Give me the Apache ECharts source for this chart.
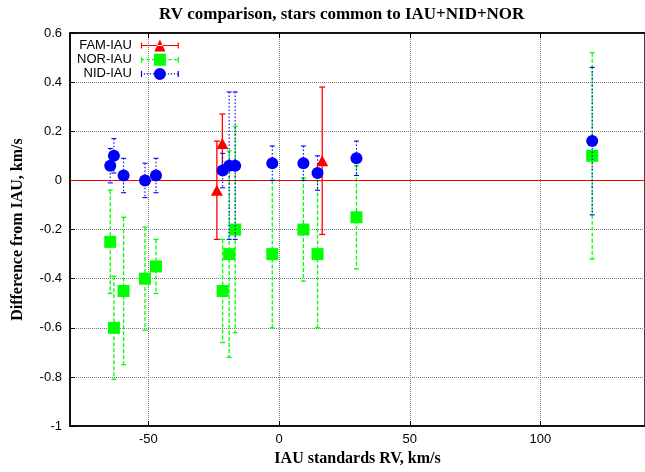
<!DOCTYPE html>
<html>
<head>
<meta charset="utf-8">
<script src="https://cdn.jsdelivr.net/npm/echarts@6/dist/echarts.min.js"></script>
<style>
html,body{margin:0;padding:0;background:#fff;}
#chart{width:645px;height:472px;}
</style>
</head>
<body>
<div id="chart"></div>
<script>
// ---- data ----
const famX = [-23.8, -21.7, 16.5];
const famY = [-0.04, 0.15, 0.08];
const famErr = [0.20, 0.12, 0.30];

const norX = [-64.6, -63.2, -59.5, -51.3, -47.1, -21.6, -19.1, -16.8, -2.6, 9.3, 14.7, 29.6, 119.8];
const norY = [-0.25, -0.60, -0.45, -0.40, -0.35, -0.45, -0.30, -0.20, -0.30, -0.20, -0.30, -0.15, 0.10];
const norErr = [0.21, 0.21, 0.30, 0.21, 0.11, 0.21, 0.42, 0.42, 0.30, 0.21, 0.30, 0.21, 0.42];

const nidX = [-64.6, -63.2, -59.5, -51.3, -47.1, -21.6, -19.1, -16.8, -2.6, 9.3, 14.7, 29.6, 119.8];
const nidY = [0.06, 0.10, 0.02, 0.00, 0.02, 0.04, 0.06, 0.06, 0.07, 0.07, 0.03, 0.09, 0.16];
const nidErr = [0.07, 0.07, 0.07, 0.07, 0.07, 0.07, 0.30, 0.30, 0.07, 0.07, 0.07, 0.07, 0.30];

const seriesNames = ['FAM-IAU', 'NOR-IAU', 'NID-IAU'];
const xTicks = [-50, 0, 50, 100];
const yTicks = [0.6, 0.4, 0.2, 0, -0.2, -0.4, -0.6, -0.8, -1];

const titleText = 'RV comparison, stars common to IAU+NID+NOR';
const xName = 'IAU standards RV, km/s';
const yName = 'Difference from IAU, km/s';

// ---- helpers ----
function zip3(xs, ys, es) { return xs.map((x, i) => [x, ys[i], es[i]]); }
function zip2(xs, ys) { return xs.map((x, i) => [x, ys[i]]); }

function errRender(lineStyle, capHalf) {
  return function (params, api) {
    const x = api.value(0), y = api.value(1), e = api.value(2);
    const top = api.coord([x, y + e]);
    const bot = api.coord([x, y - e]);
    const st = Object.assign({ fill: null }, lineStyle);
    return {
      type: 'group',
      children: [
        { type: 'line', shape: { x1: top[0], y1: top[1], x2: bot[0], y2: bot[1] }, style: st },
        { type: 'line', shape: { x1: top[0] - capHalf, y1: top[1], x2: top[0] + capHalf, y2: top[1] }, style: Object.assign({}, st, { lineDash: null }) },
        { type: 'line', shape: { x1: bot[0] - capHalf, y1: bot[1], x2: bot[0] + capHalf, y2: bot[1] }, style: Object.assign({}, st, { lineDash: null }) }
      ]
    };
  };
}

// legend icon: error-bar line with caps plus marker, in a 38x12 box
function iconPath(marker, on, off) {
  let p = '';
  if (off === 0) {
    p += 'M0 5.4H38V6.6H0Z';
  } else {
    for (let x = 0; x < 38; x += on + off) {
      const x2 = Math.min(38, x + on);
      p += 'M' + x + ' 5.4H' + x2 + 'V6.6H' + x + 'Z';
    }
  }
  p += 'M0 3H1.2V9H0Z M36.8 3H38V9H36.8Z';
  if (marker === 'triangle') p += 'M13.5 12L24.5 12L19 0Z';
  if (marker === 'rect') p += 'M13 0H25V12H13Z';
  if (marker === 'circle') p += 'M13 6A6 6 0 1 1 25 6A6 6 0 1 1 13 6Z';
  return 'path://' + p;
}

const RED = '#ff0000', GREEN = '#00ff00', BLUE = '#0000ff';

const chart = echarts.init(document.getElementById('chart'));
const serif = 'Liberation Serif, Times New Roman, serif';
const sans = 'Liberation Sans, Arial, sans-serif';

const option = {
  backgroundColor: '#fff',
  animation: false,
  title: {
    text: titleText,
    left: 154,
    top: 1,
    textStyle: { fontFamily: serif, fontWeight: 'bold', fontSize: 17, color: '#000' }
  },
  legend: {
    orient: 'vertical',
    align: 'right',
    left: 77,
    top: 39,
    padding: 0,
    itemWidth: 38,
    itemHeight: 12,
    itemGap: 1.2,
    textStyle: { fontFamily: sans, fontSize: 13, lineHeight: 12, color: '#000', padding: [0, 4, 0, 0] },
    data: [
      { name: seriesNames[0], icon: iconPath('triangle', 0, 0) },
      { name: seriesNames[1], icon: iconPath('rect', 3.5, 2) },
      { name: seriesNames[2], icon: iconPath('circle', 1.2, 1.8) }
    ]
  },
  grid: {
    left: 70, top: 33, right: -4, bottom: 44,
    show: true, borderColor: '#000', borderWidth: 1.5, backgroundColor: 'transparent'
  },
  xAxis: [{
    type: 'value', min: -80, max: 140,
    name: xName, nameLocation: 'middle', nameGap: 23,
    nameTextStyle: { fontFamily: serif, fontWeight: 'bold', fontSize: 16, color: '#000' },
    axisLine: { show: true, onZero: false, lineStyle: { color: '#000', width: 1.5 } },
    axisTick: { show: true, inside: true, length: 5, lineStyle: { color: '#000' }, customValues: xTicks },
    axisLabel: { fontFamily: sans, fontSize: 13, color: '#000', margin: 7, customValues: xTicks },
    splitLine: { show: true, lineStyle: { color: '#777', type: 'dotted', width: 1 } }
  }, {
    type: 'value', min: -80, max: 140, position: 'top',
    axisLine: { show: true, onZero: false, lineStyle: { color: '#000', width: 1.5 } },
    axisTick: { show: true, inside: true, length: 5, lineStyle: { color: '#000' }, customValues: xTicks },
    axisLabel: { show: false, customValues: xTicks },
    splitLine: { show: false }
  }],
  yAxis: {
    type: 'value', min: -1, max: 0.6, interval: 0.2,
    name: yName, nameLocation: 'middle', nameGap: 44,
    nameTextStyle: { fontFamily: serif, fontWeight: 'bold', fontSize: 16, color: '#000' },
    axisLine: { show: true, onZero: false, lineStyle: { color: '#000', width: 1.5 } },
    axisTick: { show: true, inside: true, length: 5, lineStyle: { color: '#000' } },
    axisLabel: { fontFamily: sans, fontSize: 13, color: '#000', margin: 8,
      formatter: v => String(Math.round(v * 10) / 10) },
    splitLine: { show: true, lineStyle: { color: '#777', type: 'dotted', width: 1 } }
  },
  series: [
    {
      name: 'FAM err', type: 'custom', renderItem: errRender({ stroke: RED, lineWidth: 1.3 }, 3),
      data: zip3(famX, famY, famErr), encode: { x: 0, y: 1 }, silent: true, z: 2
    },
    {
      name: seriesNames[0], type: 'scatter', symbol: 'triangle', symbolSize: [12, 11],
      itemStyle: { color: RED, opacity: 1 }, data: zip2(famX, famY), z: 3,
      markLine: {
        silent: true, symbol: 'none', label: { show: false },
        lineStyle: { color: RED, type: 'solid', width: 1 },
        data: [{ yAxis: 0 }]
      }
    },
    {
      name: 'NOR err', type: 'custom', renderItem: errRender({ stroke: GREEN, lineWidth: 1.3, lineDash: [4, 2] }, 2.5),
      data: zip3(norX, norY, norErr), encode: { x: 0, y: 1 }, silent: true, z: 4
    },
    {
      name: seriesNames[1], type: 'scatter', symbol: 'rect', symbolSize: 12,
      itemStyle: { color: GREEN, opacity: 1 }, data: zip2(norX, norY), z: 5
    },
    {
      name: 'NID err', type: 'custom', renderItem: errRender({ stroke: BLUE, lineWidth: 1.1, lineDash: [1.5, 2] }, 2.5),
      data: zip3(nidX, nidY, nidErr), encode: { x: 0, y: 1 }, silent: true, z: 6
    },
    {
      name: seriesNames[2], type: 'scatter', symbol: 'circle', symbolSize: 12,
      itemStyle: { color: BLUE, opacity: 1 }, data: zip2(nidX, nidY), z: 7
    }
  ]
};
chart.setOption(option);
</script>
</body>
</html>
